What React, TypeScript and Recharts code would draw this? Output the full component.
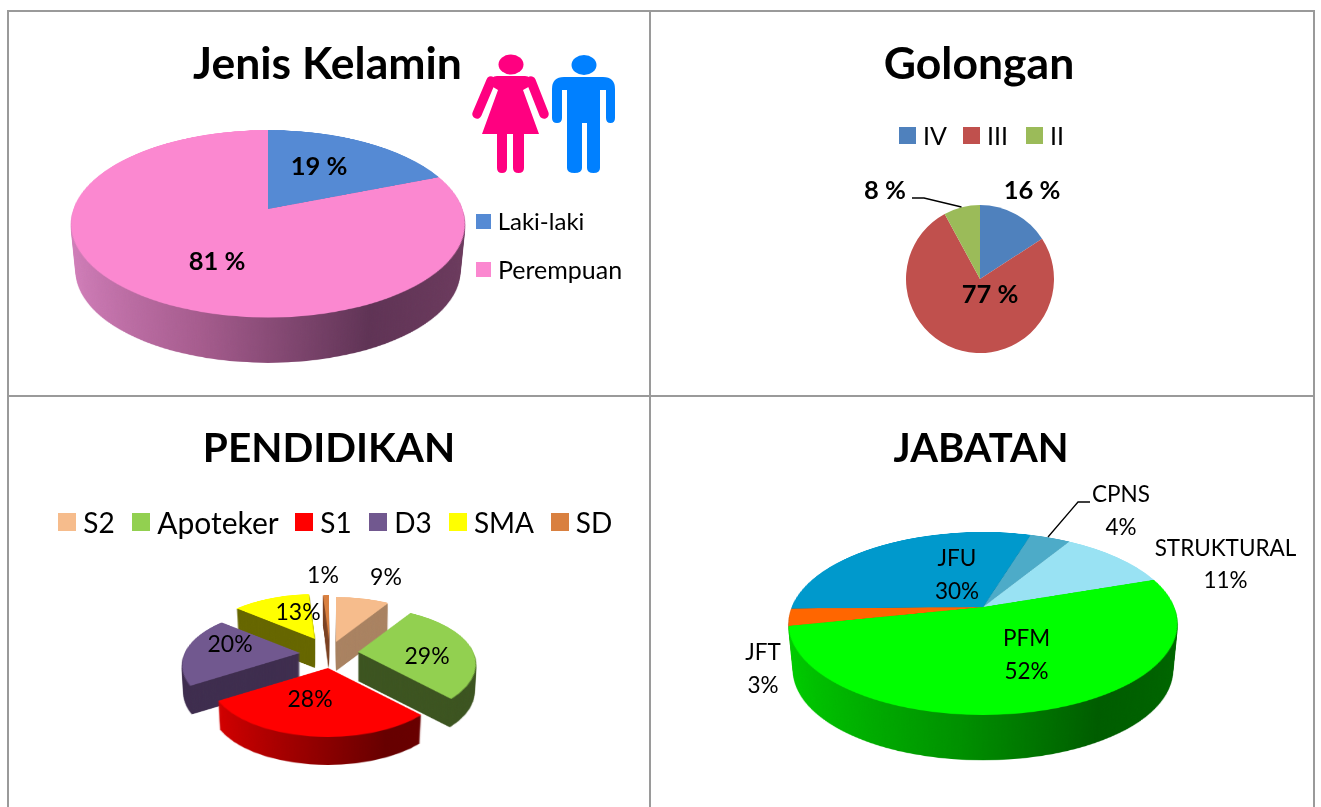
import React from "react";
import { PieChart, Pie, Cell } from "recharts";

// values as printed on the slices
const genderNames = ["Laki-laki", "Perempuan"];
const genderValues = [19, 81];

const rankNames = ["IV", "III", "II"];
const rankValues = [16, 77, 8];

const eduNames = ["S2", "Apoteker", "S1", "D3", "SMA", "SD"];
const eduValues = [9, 29, 28, 20, 13, 1];

const jobNames = ["CPNS", "STRUKTURAL", "PFM", "JFT", "JFU"];
const jobValues = [4, 11, 52, 3, 30];

const genderFills = ["#558ad4", "#fb88d0"];
const genderWalls = ["#2f4f80", "url(#pinkWall)"];
const rankFills = ["#4f81bd", "#c0504d", "#9bbb59"];
const eduFills = ["#f6bc8c", "#92d050", "#ff0000", "#71588f", "#ffff00", "#d98040"];
const eduWalls = ["#a98261", "#3c5420", "url(#redWall)", "#3e2d4e", "#666600", "#7a4020"];
const jobFills = ["#4dabc8", "#99e2f3", "#00ff00", "#ff6600", "#0099cc"];
const jobWalls = ["#2c6578", "#5c8a94", "url(#greenWall)", "#a04000", "#005f7a"];

const FONT = "Lato, sans-serif";
const GREY = "#9a9a9a";
const R = 100;
const S = 2 * R + 4;

const toData = (names: string[], values: number[]) =>
  names.map((name, i) => ({ name, value: values[i] }));

// maps the flat circle onto a tilted one: back/front are the distances from the
// pie centre to the far and near rim, so the centre sits above the ellipse middle
function tiltMatrix(back: number, front: number, halfWidth: number) {
  const c = (back - front) / (back + front);
  const a = back * (1 - c);
  const y0 = ((front - back) / 2) / (a - (c * (front - back)) / 2);
  const d = (halfWidth * (1 + c * y0)) / Math.sqrt(1 - y0 * y0);
  return `matrix3d(${d / R},0,0,0, 0,${a / R},0,${c / R}, 0,0,1,0, 0,0,0,1)`;
}

function Face({ data, fills, startAngle, endAngle, transform }: any) {
  return (
    <div style={{ position: "absolute", left: 0, top: 0, width: S, height: S, transform, transformOrigin: "50% 50%" }}>
      <PieChart width={S} height={S} margin={{ top: 0, right: 0, bottom: 0, left: 0 }}>
        <Pie
          data={data}
          dataKey="value"
          cx={S / 2}
          cy={S / 2}
          outerRadius={R}
          startAngle={startAngle}
          endAngle={endAngle}
          stroke="none"
          isAnimationActive={false}
        >
          {data.map((d: any, i: number) => (
            <Cell key={d.name} fill={fills[i]} />
          ))}
        </Pie>
      </PieChart>
    </div>
  );
}

function TiltedPie({ x, y, back, front, halfWidth, depth, shrink, data, fills, walls, startAngle, endAngle }: any) {
  const matrix = tiltMatrix(back, front, halfWidth);
  const layers = [];
  for (let i = depth; i >= 1; i--) {
    const s = 1 - (i / depth) * shrink;
    layers.push(
      <Face
        key={i}
        data={data}
        fills={walls}
        startAngle={startAngle}
        endAngle={endAngle}
        transform={`translate(0px, ${i}px) scale(${s}) ${matrix}`}
      />
    );
  }
  return (
    <div style={{ position: "absolute", left: x - S / 2, top: y - S / 2, width: S, height: S }}>
      {layers}
      <Face data={data} fills={fills} startAngle={startAngle} endAngle={endAngle} transform={matrix} />
    </div>
  );
}

function Txt({ x, y, size, bold, children }: any) {
  return (
    <div
      style={{
        position: "absolute",
        left: x,
        top: y,
        transform: "translate(-50%, -50%)",
        fontFamily: FONT,
        fontSize: size,
        fontWeight: bold ? 700 : 400,
        lineHeight: 1,
        whiteSpace: "nowrap",
        color: "#000",
      }}
    >
      {children}
    </div>
  );
}

function Swatch({ x, y, size, color }: any) {
  return <div style={{ position: "absolute", left: x, top: y, width: size, height: size, background: color }} />;
}

function Rule({ x, y, w, h }: any) {
  return <div style={{ position: "absolute", left: x, top: y, width: w, height: h, background: GREY }} />;
}

function People() {
  return (
    <svg width={1321} height={807} style={{ position: "absolute", left: 0, top: 0 }}>
      <g fill="#ff0080" stroke="none">
        <ellipse cx={511} cy={64.5} rx={12.5} ry={10} />
        <path d="M497 76 L525 76 Q531 76 534 84 L523 90 L539 134 L524 134 L524 168 Q524 173 518.5 173 Q513 173 513 168 L513 134 L507 134 L507 168 Q507 173 502 173 Q497 173 497 168 L497 134 L482 134 L498 90 L488 84 Q491 76 497 76 Z" />
        <path d="M491 81 L477 114" stroke="#ff0080" strokeWidth={9.5} strokeLinecap="round" fill="none" />
        <path d="M531 81 L544 114" stroke="#ff0080" strokeWidth={9.5} strokeLinecap="round" fill="none" />
      </g>
      <g fill="#0080ff" stroke="none">
        <ellipse cx={584} cy={65} rx={12.5} ry={10} />
        <path d="M564 77 L603 77 Q615 77 615 89 L615 118 Q615 123 610.5 123 Q606 123 606 118 L606 90 L600 90 L600 168 Q600 173 593.5 173 Q587 173 587 168 L587 123 L582 123 L582 168 Q582 173 574.5 173 Q567 173 567 168 L567 90 L562 90 L562 118 Q562 123 557 123 Q552 123 552 118 L552 89 Q552 77 564 77 Z" />
      </g>
    </svg>
  );
}

function Leaders() {
  return (
    <svg width={1321} height={807} style={{ position: "absolute", left: 0, top: 0 }}>
      <polyline points="912,198 924,198 961.5,207" fill="none" stroke="#000" strokeWidth={1.3} />
      <polyline points="1090,502 1078,502 1048,537" fill="none" stroke="#000" strokeWidth={1.3} />
    </svg>
  );
}

// explode layout: where each education slice's tip lands, and the paint order
const eduTips = [
  { x: 336, y: 642 },
  { x: 358, y: 652 },
  { x: 328, y: 668 },
  { x: 300, y: 653 },
  { x: 315, y: 639 },
  { x: 329, y: 640 },
];
const eduPaintOrder = [5, 4, 0, 3, 1, 2];

function EducationPie() {
  const total = eduValues.reduce((a, b) => a + b, 0);
  let start = 90;
  const slices = eduValues.map((v) => {
    const end = start - (v / total) * 360;
    const s = { start, end };
    start = end;
    return s;
  });
  return (
    <>
      {eduPaintOrder.map((i) => (
        <TiltedPie
          key={eduNames[i]}
          x={eduTips[i].x}
          y={eduTips[i].y}
          back={45}
          front={69}
          halfWidth={118}
          depth={29}
          shrink={0.015}
          data={[{ name: eduNames[i], value: eduValues[i] }]}
          fills={[eduFills[i]]}
          walls={[eduWalls[i]]}
          startAngle={slices[i].start}
          endAngle={slices[i].end}
        />
      ))}
    </>
  );
}

export default function App() {
  const rankData = toData(rankNames, rankValues);
  return (
    <div style={{ position: "absolute", left: 0, top: 0, width: 1321, height: 807, background: "#fff", overflow: "hidden" }}>
      <svg width={0} height={0} style={{ position: "absolute" }}>
        <defs>
          <linearGradient id="pinkWall" gradientUnits="userSpaceOnUse" x1={0} y1={0} x2={S} y2={0}>
            <stop offset="0%" stopColor="#d480bc" />
            <stop offset="35%" stopColor="#a65c8e" />
            <stop offset="72%" stopColor="#5f3355" />
            <stop offset="100%" stopColor="#6d3b5e" />
          </linearGradient>
          <linearGradient id="greenWall" gradientUnits="userSpaceOnUse" x1={0} y1={0} x2={S} y2={0}>
            <stop offset="0%" stopColor="#00d000" />
            <stop offset="45%" stopColor="#009000" />
            <stop offset="75%" stopColor="#005c00" />
            <stop offset="100%" stopColor="#006600" />
          </linearGradient>
          <linearGradient id="redWall" gradientUnits="userSpaceOnUse" x1={0} y1={0} x2={S} y2={0}>
            <stop offset="10%" stopColor="#d00000" />
            <stop offset="70%" stopColor="#660000" />
            <stop offset="100%" stopColor="#6a0000" />
          </linearGradient>
        </defs>
      </svg>

      <Rule x={7} y={10} w={1308} h={2} />
      <Rule x={7} y={395} w={1308} h={2} />
      <Rule x={7} y={10} w={2} h={797} />
      <Rule x={649} y={10} w={2} h={797} />
      <Rule x={1313} y={10} w={2} h={797} />

      <TiltedPie
        x={268}
        y={208.5}
        back={79}
        front={108.5}
        halfWidth={197}
        depth={48}
        shrink={0.025}
        data={toData(genderNames, genderValues)}
        fills={genderFills}
        walls={genderWalls}
        startAngle={90}
        endAngle={-270}
      />

      <div style={{ position: "absolute", left: 979.5 - S / 2, top: 279 - S / 2 }}>
        <PieChart width={S} height={S} margin={{ top: 0, right: 0, bottom: 0, left: 0 }}>
          <Pie
            data={rankData}
            dataKey="value"
            cx={S / 2}
            cy={S / 2}
            outerRadius={74}
            startAngle={90}
            endAngle={-270}
            stroke="none"
            isAnimationActive={false}
          >
            {rankData.map((d, i) => (
              <Cell key={d.name} fill={rankFills[i]} />
            ))}
          </Pie>
        </PieChart>
      </div>

      <EducationPie />

      <TiltedPie
        x={983}
        y={607}
        back={75}
        front={108}
        halfWidth={194.5}
        depth={48}
        shrink={0.025}
        data={toData(jobNames, jobValues)}
        fills={jobFills}
        walls={jobWalls}
        startAngle={73}
        endAngle={-287}
      />

      <People />
      <Leaders />

      <Txt x={327.5} y={62} size={44.5} bold>Jenis Kelamin</Txt>
      <Txt x={979} y={62} size={44.5} bold>Golongan</Txt>
      <Txt x={329} y={447} size={40.5} bold>PENDIDIKAN</Txt>
      <Txt x={981} y={447} size={40} bold>JABATAN</Txt>

      <Txt x={319} y={166} size={25.5} bold>{genderValues[0]} %</Txt>
      <Txt x={217} y={261} size={25.5} bold>{genderValues[1]} %</Txt>
      <Swatch x={476} y={214} size={15} color={genderFills[0]} />
      <Txt x={541} y={221} size={24}>{genderNames[0]}</Txt>
      <Swatch x={476} y={262} size={15} color={genderFills[1]} />
      <Txt x={560} y={269} size={25}>{genderNames[1]}</Txt>

      <Swatch x={899} y={127} size={17} color={rankFills[0]} />
      <Txt x={935} y={135} size={25}>{rankNames[0]}</Txt>
      <Swatch x={963} y={127} size={17} color={rankFills[1]} />
      <Txt x={997.5} y={135} size={25}>{rankNames[1]}</Txt>
      <Swatch x={1026} y={127} size={17} color={rankFills[2]} />
      <Txt x={1057} y={135} size={25}>{rankNames[2]}</Txt>
      <Txt x={1032} y={190} size={25.5} bold>{rankValues[0]} %</Txt>
      <Txt x={990} y={294} size={25.5} bold>{rankValues[1]} %</Txt>
      <Txt x={885} y={190} size={25.5} bold>{rankValues[2]} %</Txt>

      <Swatch x={58} y={513} size={18} color={eduFills[0]} />
      <Txt x={99} y={522} size={28}>{eduNames[0]}</Txt>
      <Swatch x={132} y={513} size={18} color={eduFills[1]} />
      <Txt x={218} y={522} size={30}>{eduNames[1]}</Txt>
      <Swatch x={295} y={513} size={18} color={eduFills[2]} />
      <Txt x={336} y={522} size={28}>{eduNames[2]}</Txt>
      <Swatch x={369} y={513} size={18} color={eduFills[3]} />
      <Txt x={413} y={522} size={28}>{eduNames[3]}</Txt>
      <Swatch x={449} y={513} size={18} color={eduFills[4]} />
      <Txt x={504} y={522} size={28}>{eduNames[4]}</Txt>
      <Swatch x={551} y={513} size={18} color={eduFills[5]} />
      <Txt x={594} y={522} size={28}>{eduNames[5]}</Txt>

      <Txt x={386} y={576} size={23}>{eduValues[0]}%</Txt>
      <Txt x={427} y={655} size={23}>{eduValues[1]}%</Txt>
      <Txt x={310} y={698} size={23}>{eduValues[2]}%</Txt>
      <Txt x={230} y={643} size={23}>{eduValues[3]}%</Txt>
      <Txt x={298} y={611} size={23}>{eduValues[4]}%</Txt>
      <Txt x={323} y={574} size={23}>{eduValues[5]}%</Txt>

      <Txt x={1121} y={494} size={22.5}>{jobNames[0]}</Txt>
      <Txt x={1121} y={527} size={22.5}>{jobValues[0]}%</Txt>
      <Txt x={1225.5} y={548} size={22.5}>{jobNames[1]}</Txt>
      <Txt x={1225.5} y={580} size={22.5}>{jobValues[1]}%</Txt>
      <Txt x={1026.5} y={638} size={22.5}>{jobNames[2]}</Txt>
      <Txt x={1026.5} y={671} size={22.5}>{jobValues[2]}%</Txt>
      <Txt x={763} y={652} size={22.5}>{jobNames[3]}</Txt>
      <Txt x={763} y={685} size={22.5}>{jobValues[3]}%</Txt>
      <Txt x={957} y={558} size={22.5}>{jobNames[4]}</Txt>
      <Txt x={957} y={591} size={22.5}>{jobValues[4]}%</Txt>
    </div>
  );
}
